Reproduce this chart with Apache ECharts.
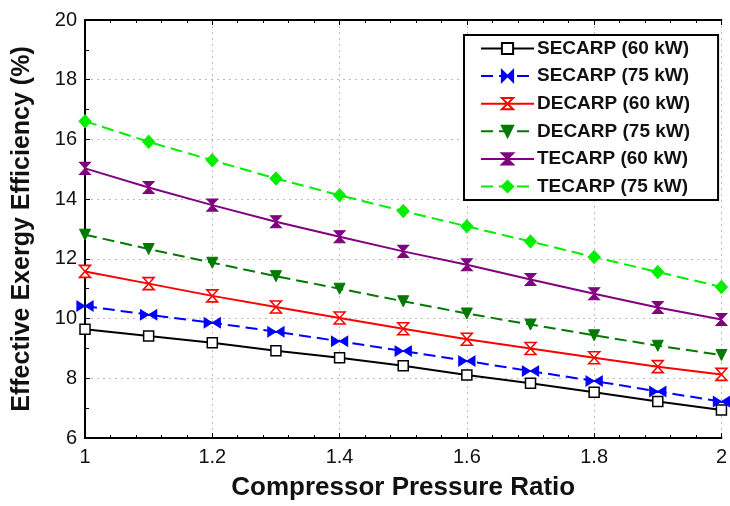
<!DOCTYPE html>
<html>
<head>
<meta charset="utf-8">
<script src="https://cdn.jsdelivr.net/npm/echarts@6/dist/echarts.min.js"></script>
<style>html,body{margin:0;padding:0;background:#fff;}#c{width:730px;height:506px;}</style>
</head>
<body>
<div id="c"></div>
<script>
var pressureRatio = [1.0, 1.1, 1.2, 1.3, 1.4, 1.5, 1.6, 1.7, 1.8, 1.9, 2.0];
var secarp60 = [9.64, 9.42, 9.19, 8.92, 8.69, 8.42, 8.11, 7.83, 7.53, 7.22, 6.94];
var secarp75 = [10.42, 10.13, 9.86, 9.56, 9.24, 8.91, 8.58, 8.24, 7.91, 7.56, 7.22];
var decarp60 = [11.58, 11.17, 10.76, 10.39, 10.02, 9.66, 9.31, 9.00, 8.69, 8.39, 8.13];
var decarp75 = [12.81, 12.33, 11.87, 11.42, 11.00, 10.58, 10.17, 9.80, 9.44, 9.09, 8.78];
var tecarp60 = [15.03, 14.39, 13.80, 13.24, 12.74, 12.25, 11.80, 11.31, 10.83, 10.37, 9.97];
var tecarp75 = [16.61, 15.92, 15.30, 14.69, 14.13, 13.60, 13.09, 12.58, 12.06, 11.56, 11.06];
var seriesNames = ['SECARP (60 kW)', 'SECARP (75 kW)', 'DECARP (60 kW)', 'DECARP (75 kW)', 'TECARP (60 kW)', 'TECARP (75 kW)'];
var xTitle = 'Compressor Pressure Ratio';
var yTitle = 'Effective Exergy Efficiency (%)';

function pairs(ys) { return pressureRatio.map(function (x, i) { return [x, ys[i]]; }); }

var FONT = '"Liberation Sans", Arial, sans-serif';
var bowtie = 'path://M0,0 L10,5 L0,10 Z M20,0 L10,5 L20,10 Z';
var hourglass = 'path://M0,0 L10,0 L5,5 L10,10 L0,10 L5,5 Z';

function mk(name, ys, color, dashed, symbol, size, hollow, rotate) {
  return {
    name: name, type: 'line', data: pairs(ys),
    symbol: symbol, symbolSize: size, symbolRotate: rotate || 0,
    showAllSymbol: true,
    lineStyle: { color: color, width: 2, type: dashed ? [12, 6] : 'solid' },
    itemStyle: hollow ? { color: '#fff', borderColor: color, borderWidth: 1.5 } : { color: color, borderColor: color, borderWidth: 1 },
    z: 3
  };
}

var chart = echarts.init(document.getElementById('c'), null, { renderer: 'canvas' });
chart.setOption({
  animation: false,
  backgroundColor: '#fff',
  textStyle: { fontFamily: FONT },
  grid: { left: 85, right: 1, top: 20, bottom: 67, containLabel: false },
  legend: {
    orient: 'vertical', left: 464, top: 35,
    backgroundColor: '#fff', borderColor: '#000', borderWidth: 2,
    padding: [4, 28, 4, 16],
    itemWidth: 53, itemHeight: 14, itemGap: 8.6,
    textStyle: { fontFamily: FONT, fontSize: 19, fontWeight: 'bold', color: '#111', padding: [0, 0, 0, -2] },
    data: seriesNames
  },
  xAxis: [{
    type: 'value', min: 1, max: 2, interval: 0.2, position: 'bottom',
    name: xTitle, nameLocation: 'middle', nameGap: 37,
    nameTextStyle: { fontFamily: FONT, fontSize: 26, fontWeight: 'bold', color: '#111' },
    axisLine: { show: true, lineStyle: { color: '#000', width: 2 } },
    axisTick: { show: true, inside: true, length: 5, lineStyle: { color: '#000' } },
    minorTick: { show: true, splitNumber: 5, length: 3, lineStyle: { color: '#000' } },
    axisLabel: { fontFamily: FONT, fontSize: 20, color: '#111', margin: 9 },
    splitLine: { show: true, lineStyle: { color: '#bbb', type: [2, 4], width: 1 } }
  }, {
    type: 'value', min: 1, max: 2, interval: 0.2, position: 'top',
    axisLine: { show: true, lineStyle: { color: '#000', width: 2 } },
    axisTick: { show: true, inside: true, length: 5, lineStyle: { color: '#000' } },
    minorTick: { show: true, splitNumber: 5, length: 3, lineStyle: { color: '#000' } },
    axisLabel: { show: false }, splitLine: { show: false }
  }],
  yAxis: {
    type: 'value', min: 6, max: 20, interval: 2,
    name: yTitle, nameLocation: 'middle', nameGap: 50,
    nameTextStyle: { fontFamily: FONT, fontSize: 25, fontWeight: 'bold', color: '#111', padding: [0, 0, 0, 0] },
    axisLine: { show: true, lineStyle: { color: '#000', width: 2 } },
    axisTick: { show: true, inside: true, length: 5, lineStyle: { color: '#000' } },
    minorTick: { show: true, splitNumber: 2, length: 4, lineStyle: { color: '#000' } },
    axisLabel: { fontFamily: FONT, fontSize: 20, color: '#111', margin: 8 },
    splitLine: { show: true, lineStyle: { color: '#bbb', type: [2, 4], width: 1 } }
  },
  series: [
    mk(seriesNames[0], secarp60, '#000000', false, 'rect', 10, true),
    mk(seriesNames[1], secarp75, '#0000ff', true, bowtie, [16, 10], false),
    mk(seriesNames[2], decarp60, '#ff0000', false, hourglass, [11, 12], true),
    mk(seriesNames[3], decarp75, '#007a00', true, 'triangle', 11, false, 180),
    mk(seriesNames[4], tecarp60, '#800080', false, hourglass, [11, 12], false),
    mk(seriesNames[5], tecarp75, '#00ee00', true, 'diamond', [12, 13], false)
  ]
});
</script>
</body>
</html>
